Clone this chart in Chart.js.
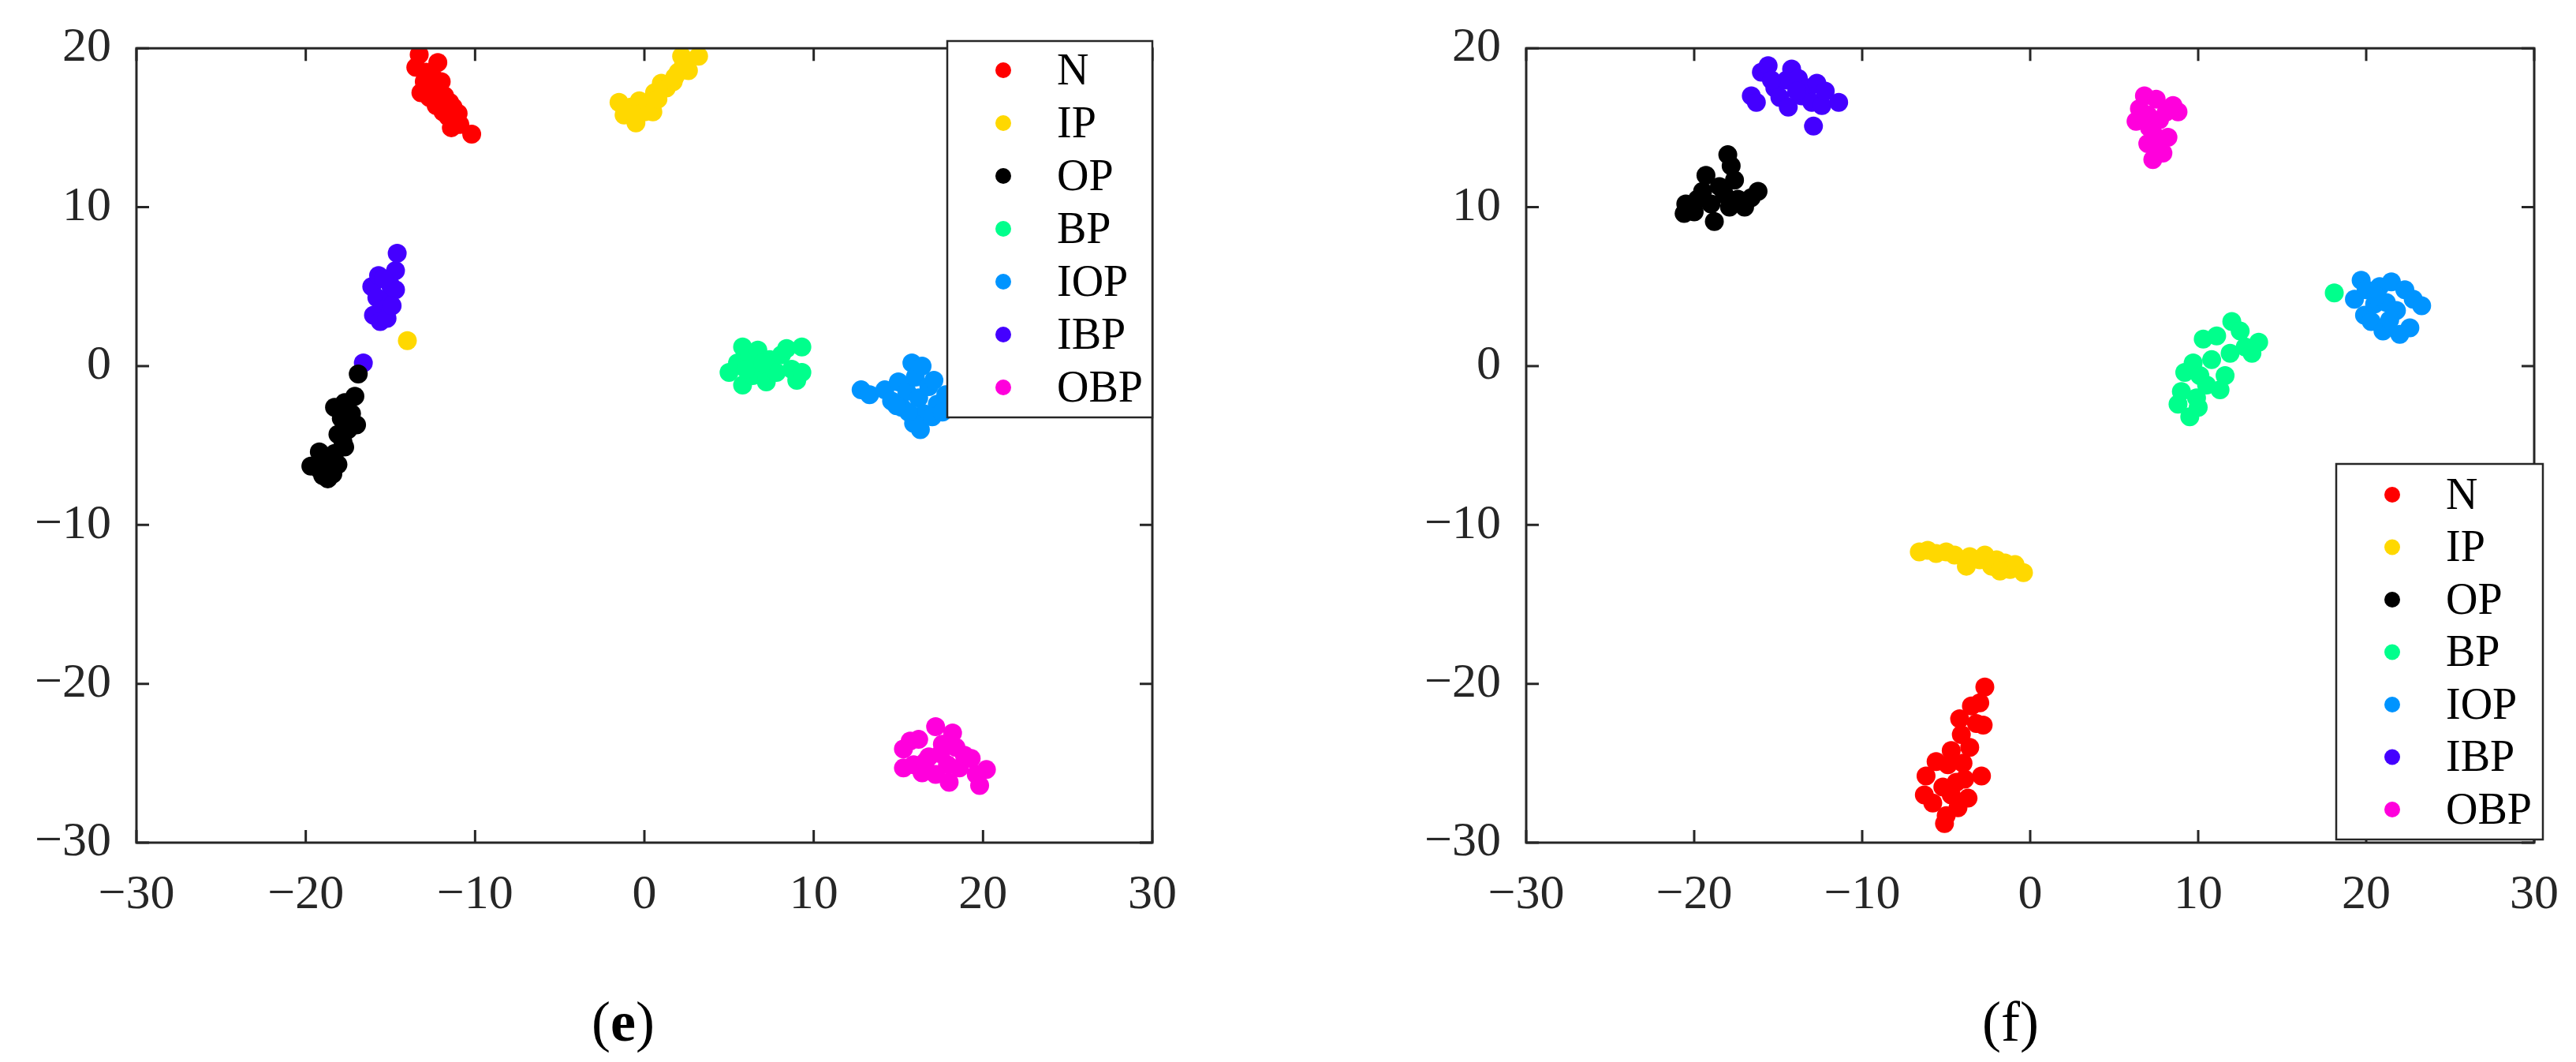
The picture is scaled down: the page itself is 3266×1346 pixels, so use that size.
<!DOCTYPE html>
<html>
<head>
<meta charset="utf-8">
<script src="https://cdn.jsdelivr.net/npm/chart.js@4.4.1/dist/chart.umd.min.js"></script>
<style>
  html, body { margin: 0; padding: 0; background: #fff; }
  .wrap { position: absolute; top: 0; width: 1633px; height: 1346px; }
  #w1 { left: 0; }
  #w2 { left: 1633px; }
</style>
</head>
<body>
<div class="wrap" id="w1"><canvas id="c1"></canvas></div>
<div class="wrap" id="w2"><canvas id="c2"></canvas></div>
<script>
// classes and colours
const classNames = ['N', 'IP', 'OP', 'BP', 'IOP', 'IBP', 'OBP'];
const classColors = ['#ff0000', '#ffd800', '#000000', '#00ff8c', '#0094ff', '#4400ff', '#ff00dc'];
const xTicks = [-30, -20, -10, 0, 10, 20, 30];
const yTicks = [-30, -20, -10, 0, 10, 20];

// panel (e) clusters
const eN = [[-13.3,19.6],[-13.5,18.8],[-12.9,18.5],[-12.2,19.1],[-13.0,17.9],[-12.6,17.6],[-12.0,17.9],[-13.2,17.2],[-12.7,16.9],[-12.2,17.3],[-11.8,17.0],[-11.5,16.6],[-12.3,16.4],[-11.9,16.0],[-11.3,16.3],[-11.6,15.7],[-11.0,15.9],[-11.4,15.0],[-10.9,15.2],[-10.2,14.6],[-12.5,18.2],[-11.8,16.8]];
const eIP = [[-1.5,16.6],[-1.2,15.8],[-0.8,16.3],[-0.5,15.3],[-0.3,16.7],[0,16.0],[0.3,16.5],[0.6,17.2],[0.5,16.0],[1.0,17.8],[1.3,17.5],[1.7,17.9],[2.0,18.5],[2.3,18.9],[2.2,19.5],[2.6,18.6],[3.2,19.5],[1.8,18.2],[0.8,16.8],[-14.0,1.6]];
const eOP = [[-16.9,-0.5],[-17.1,-1.9],[-17.7,-2.3],[-18.3,-2.6],[-17.3,-3.0],[-17.9,-3.3],[-17.0,-3.7],[-17.5,-4.0],[-18.1,-4.3],[-17.7,-5.1],[-18.3,-5.5],[-19.2,-5.4],[-18.8,-5.8],[-19.7,-6.3],[-19.2,-6.5],[-18.7,-7.1],[-18.4,-6.8],[-18.1,-6.2],[-19.0,-6.9],[-17.8,-4.8]];
const eBP = [[5.0,-0.4],[5.5,0.2],[5.8,1.2],[5.8,-1.2],[6.2,0.5],[6.4,-0.6],[6.7,1.0],[6.9,-0.1],[7.2,-1.0],[7.4,0.4],[7.8,-0.4],[8.1,0.7],[8.4,1.1],[8.7,-0.2],[9.0,-0.9],[9.3,1.2],[9.3,-0.4],[6.0,-0.2],[7.0,0.2]];
const eIOP = [[12.8,-1.5],[13.3,-1.8],[14.2,-1.5],[14.6,-2.2],[15.0,-1.0],[15.2,-2.6],[15.5,-1.6],[15.8,0.2],[16.0,-0.7],[16.2,-2.0],[16.5,-3.0],[16.3,-4.0],[15.9,-3.6],[16.8,-1.3],[17.1,-0.9],[17.3,-2.4],[17.0,-3.2],[16.4,0.0],[15.6,-2.9],[14.9,-2.5],[17.8,-1.8],[17.6,-2.9]];
const eIBP = [[-16.1,5.0],[-15.7,5.7],[-15.3,4.2],[-15.0,5.1],[-14.7,6.0],[-14.6,7.1],[-14.7,4.8],[-15.8,4.3],[-15.5,3.6],[-15.1,3.8],[-16.0,3.2],[-15.6,2.8],[-15.2,3.0],[-14.9,3.8],[-15.4,5.5],[-16.6,0.2]];
const eOBP = [[15.3,-24.1],[15.7,-23.6],[16.2,-23.5],[15.3,-25.3],[15.9,-25.1],[16.4,-25.6],[16.8,-24.6],[17.2,-22.7],[17.6,-23.8],[17.9,-25.1],[18.2,-23.1],[18.4,-24.0],[18.6,-25.3],[18.0,-26.2],[18.9,-24.5],[19.3,-24.7],[19.6,-25.7],[19.8,-26.4],[20.2,-25.4],[17.2,-25.7],[16.6,-24.9],[17.5,-24.4]];

// panel (f) clusters
const fN = [[-2.7,-20.2],[-3.0,-21.2],[-3.5,-21.4],[-3.2,-22.5],[-2.8,-22.6],[-4.2,-22.2],[-4.1,-23.2],[-4.7,-24.2],[-3.6,-24.0],[-4.0,-25.0],[-4.9,-25.1],[-5.6,-24.9],[-6.2,-25.8],[-2.9,-25.8],[-4.4,-26.2],[-5.2,-26.5],[-6.3,-27.0],[-5.8,-27.5],[-4.7,-27.0],[-3.7,-27.2],[-4.3,-27.8],[-5.0,-28.3],[-5.1,-28.8],[-3.9,-26.0]];
const fIP = [[-6.6,-11.7],[-6.1,-11.6],[-5.6,-11.8],[-5.0,-11.7],[-4.5,-11.9],[-3.8,-12.6],[-3.6,-12.0],[-3.0,-12.2],[-2.7,-11.9],[-2.3,-12.6],[-2.0,-12.2],[-1.5,-12.4],[-1.2,-12.8],[-0.9,-12.5],[-0.4,-13.0],[-1.8,-12.9]];
const fOP = [[-20.6,9.6],[-20.5,10.2],[-20.0,9.7],[-19.8,10.5],[-19.5,11.0],[-19.3,12.0],[-19.0,10.2],[-18.8,9.1],[-18.5,11.3],[-18.0,13.3],[-17.8,12.6],[-17.6,11.7],[-17.4,10.5],[-17.9,10.0],[-17.0,10.0],[-16.6,10.6],[-16.2,11.0],[-18.2,10.8]];
const fBP = [[8.8,-2.4],[9.0,-1.6],[9.2,-0.4],[9.5,-3.2],[9.7,0.2],[9.9,-2.0],[10.1,-0.6],[10.3,1.7],[10.5,-1.2],[10.8,0.4],[11.1,1.9],[11.3,-1.5],[11.6,-0.6],[11.9,0.8],[12.0,2.8],[12.5,2.2],[12.8,1.2],[13.2,0.8],[13.6,1.5],[18.1,4.6],[10.0,-2.6]];
const fIOP = [[19.3,4.2],[19.7,5.4],[20.0,4.8],[19.9,3.2],[20.3,2.8],[20.5,3.9],[20.8,5.0],[21.0,2.2],[21.2,4.0],[21.5,5.3],[21.8,3.5],[22.0,2.0],[22.3,4.8],[22.6,2.4],[22.8,4.2],[23.3,3.8],[21.4,2.9],[20.6,4.4]];
const fIBP = [[-16.6,17.0],[-16.3,16.6],[-16.0,18.5],[-15.6,18.9],[-15.2,17.5],[-14.9,16.9],[-14.5,18.0],[-14.2,18.7],[-14.4,16.3],[-13.8,18.1],[-13.6,17.0],[-13.2,17.5],[-13.0,16.6],[-12.7,17.8],[-12.4,16.4],[-12.2,17.3],[-11.4,16.6],[-12.9,15.1],[-15.4,18.0],[-13.9,17.3]];
const fOBP = [[6.3,15.4],[6.5,16.2],[6.8,17.0],[7.1,15.0],[7.0,14.0],[7.3,13.0],[7.5,16.8],[7.7,15.5],[7.4,14.5],[7.9,13.4],[8.2,14.4],[8.1,16.0],[8.5,16.4],[8.8,16.0],[7.0,15.8],[7.6,14.0],[6.6,15.5]];

const FONT = '"Liberation Serif", "Times New Roman", serif';
const INK = '#262626';

// frame, inward ticks, boxed legend and caption
const decorations = {
  id: 'decorations',
  afterDraw(chart, args, opts) {
    const { ctx, chartArea: a, scales } = chart;
    ctx.save();
    ctx.strokeStyle = INK;
    ctx.lineWidth = 3;
    const t = 16;
    ctx.beginPath();
    xTicks.forEach(v => {
      const px = scales.x.getPixelForValue(v);
      ctx.moveTo(px, a.bottom); ctx.lineTo(px, a.bottom - t);
      ctx.moveTo(px, a.top);    ctx.lineTo(px, a.top + t);
    });
    yTicks.forEach(v => {
      const py = scales.y.getPixelForValue(v);
      ctx.moveTo(a.left, py);  ctx.lineTo(a.left + t, py);
      ctx.moveTo(a.right, py); ctx.lineTo(a.right - t, py);
    });
    ctx.stroke();
    ctx.strokeRect(a.left, a.top, a.right - a.left, a.bottom - a.top);

    // legend box
    const L = opts.legend;
    ctx.fillStyle = '#fff';
    ctx.fillRect(L.x, L.y, L.w, L.h);
    ctx.lineWidth = 2.5;
    ctx.strokeRect(L.x, L.y, L.w, L.h);
    ctx.font = '56px ' + FONT;
    ctx.textBaseline = 'middle';
    chart.data.datasets.forEach((ds, i) => {
      const cy = L.y + L.first + i * L.step;
      ctx.fillStyle = ds.backgroundColor;
      ctx.beginPath();
      ctx.arc(L.x + 71, cy, 10, 0, Math.PI * 2);
      ctx.fill();
      ctx.fillStyle = '#000';
      ctx.fillText(ds.label, L.x + 139, cy + 3);
    });

    // caption
    ctx.fillStyle = '#000';
    ctx.textAlign = 'center';
    const c = opts.caption;
    ctx.font = '72px ' + FONT;
    const pw = ctx.measureText('(').width;
    ctx.font = (c.bold ? 'bold ' : '') + '72px ' + FONT;
    const lw = ctx.measureText(c.letter).width;
    ctx.font = '72px ' + FONT;
    ctx.fillText('(', c.x - lw / 2 - pw / 2, c.y);
    ctx.fillText(')', c.x + lw / 2 + pw / 2, c.y);
    ctx.font = (c.bold ? 'bold ' : '') + '72px ' + FONT;
    ctx.fillText(c.letter, c.x, c.y);
    ctx.restore();
  }
};

function makeChart(id, groups, yAxisWidth, padRight, legend, caption) {
  const datasets = groups.map((pts, i) => ({
    label: classNames[i],
    data: pts.map(p => ({ x: p[0], y: p[1] })),
    backgroundColor: classColors[i],
    borderWidth: 0,
    pointRadius: 12,
  }));
  const tickFont = { family: FONT, size: 62 };
  const fmt = v => String(v).replace('-', '\u2212');
  return new Chart(document.getElementById(id), {
    type: 'scatter',
    data: { datasets },
    options: {
      responsive: true,
      maintainAspectRatio: false,
      animation: false,
      events: [],
      layout: { padding: { top: 51, right: padRight, bottom: 138, left: 0 } },
      plugins: {
        legend: { display: false },
        tooltip: { enabled: false },
        decorations: { legend, caption },
      },
      scales: {
        x: {
          type: 'linear', min: -30, max: 30,
          afterBuildTicks: s => { s.ticks = xTicks.map(v => ({ value: v })); },
          afterFit: s => { s.height = 140; },
          grid: { display: false }, border: { display: false },
          ticks: { color: INK, font: tickFont, padding: 22, callback: fmt, maxRotation: 0 },
        },
        y: {
          type: 'linear', min: -30, max: 20,
          afterBuildTicks: s => { s.ticks = yTicks.map(v => ({ value: v })); },
          afterFit: s => { s.width = yAxisWidth; },
          grid: { display: false }, border: { display: false },
          ticks: { color: INK, font: tickFont, padding: 24, callback: fmt },
        },
      },
    },
    plugins: [decorations],
  });
}

makeChart('c1', [eN, eIP, eOP, eBP, eIOP, eIBP, eOBP], 173, 172,
  { x: 1201, y: 52, w: 260, h: 477, first: 37, step: 67 },
  { x: 790, y: 1300, letter: 'e', bold: true });
makeChart('c2', [fN, fIP, fOP, fBP, fIOP, fIBP, fOBP], 302, 42,
  { x: 1329, y: 588, w: 262, h: 476, first: 39, step: 66.5 },
  { x: 916, y: 1300, letter: 'f', bold: false });
</script>
</body>
</html>
